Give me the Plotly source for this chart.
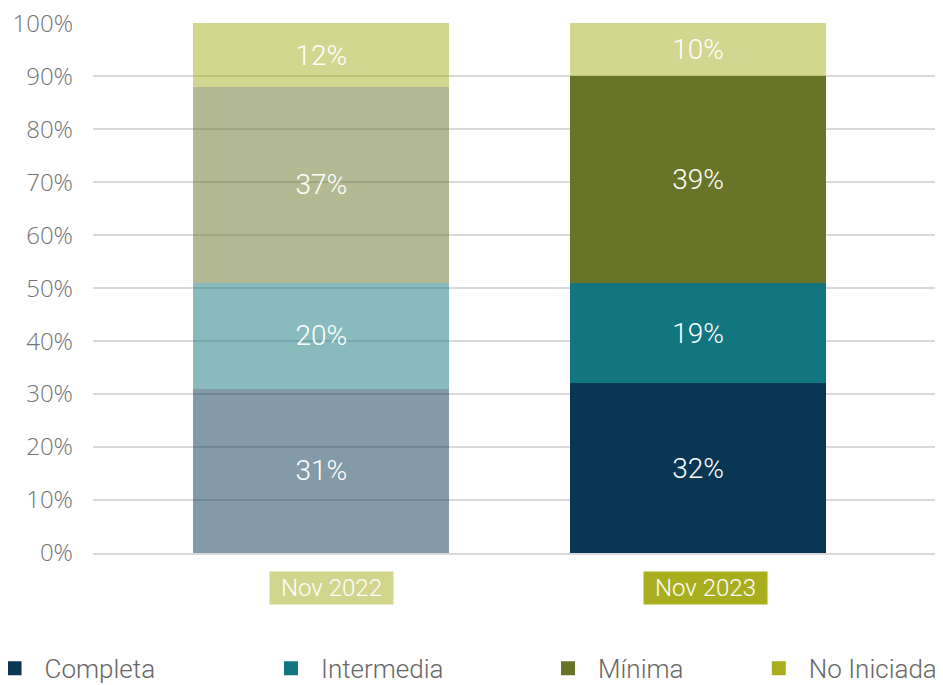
import plotly.graph_objects as go

categories = ["Nov 2022", "Nov 2023"]
series_names = ["Completa", "Intermedia", "Mínima", "No Iniciada"]
completa = [31, 32]
intermedia = [20, 19]
minima = [37, 39]
no_iniciada = [12, 10]
y_ticks = [0, 10, 20, 30, 40, 50, 60, 70, 80, 90, 100]
y_tick_labels = [f"{v}%" for v in y_ticks]

series_values = [completa, intermedia, minima, no_iniciada]
full_colors = ["#083653", "#12767E", "#687427", "#A8AE1E"]
faded_colors = ["rgba(8,54,83,0.5)", "rgba(18,118,126,0.5)",
                "rgba(104,116,39,0.5)", "rgba(168,174,30,0.5)"]
# per-bar colours: 2022 faded, 2023 full (No Iniciada faded in both)
bar_colors = [
    [faded_colors[0], full_colors[0]],
    [faded_colors[1], full_colors[1]],
    [faded_colors[2], full_colors[2]],
    [faded_colors[3], faded_colors[3]],
]
label_bg = ["#D2D58C", "#A8AE1E"]
label_shift = [10, 7]

FONT = "Roboto"

fig = go.Figure()
for name, vals, cols in zip(series_names, series_values, bar_colors):
    fig.add_trace(go.Bar(
        x=categories, y=vals, name=name,
        marker=dict(color=cols, line=dict(width=0)),
        text=[f"{v}%" for v in vals],
        textposition="inside", insidetextanchor="middle",
        textfont=dict(family=FONT, size=28, color="white", weight=300),
        constraintext="none",
        width=0.68, showlegend=False,
        hoverinfo="skip",
    ))

legend_x = [-0.1285, 0.199, 0.5273, 0.777]
for i, (name, col) in enumerate(zip(series_names, full_colors)):
    lg = "legend" if i == 0 else f"legend{i+1}"
    fig.add_trace(go.Scatter(
        x=[None], y=[None], mode="markers", name=name,
        marker=dict(symbol="square", size=14, color=col),
        legend=lg, showlegend=True,
    ))

for cat, bg, sh in zip(categories, label_bg, label_shift):
    fig.add_annotation(
        x=cat, xref="x", y=-0.066, yref="paper", yanchor="middle",
        text=cat, showarrow=False, xshift=sh,
        width=123, height=32, bgcolor=bg, borderpad=0,
        font=dict(family=FONT, size=24, color="white", weight=300),
    )

legend_common = dict(
    orientation="h", y=-0.2175, yanchor="middle", xanchor="left",
    font=dict(family=FONT, size=26, color="#666666", weight=300),
    itemwidth=50, bgcolor="rgba(0,0,0,0)", borderwidth=0,
)
layout_legends = {}
for i, lx in enumerate(legend_x):
    key = "legend" if i == 0 else f"legend{i+1}"
    layout_legends[key] = dict(legend_common, x=lx)

fig.update_layout(
    barmode="stack",
    width=935, height=677,
    margin=dict(l=85, r=6, t=15, b=132, autoexpand=False),
    plot_bgcolor="white", paper_bgcolor="white",
    xaxis=dict(
        type="category", range=[-0.606, 1.634], automargin=False,
        showticklabels=False, showgrid=False,
        showline=True, linecolor="#D9D9D9", linewidth=2,
        ticks="", zeroline=False,
    ),
    yaxis=dict(
        range=[0, 100.05], tickvals=y_ticks, ticktext=y_tick_labels,
        automargin=False, ticklabeloverflow="allow",
        showgrid=True, gridcolor="#D9D9D9", gridwidth=1.5,
        zeroline=False, showline=False, ticks="",
        ticklabelstandoff=19,
        tickfont=dict(family="Open Sans", size=24, color="#737373", weight=300),
    ),
    showlegend=True,
    **layout_legends,
)

fig.write_html("out.html")
